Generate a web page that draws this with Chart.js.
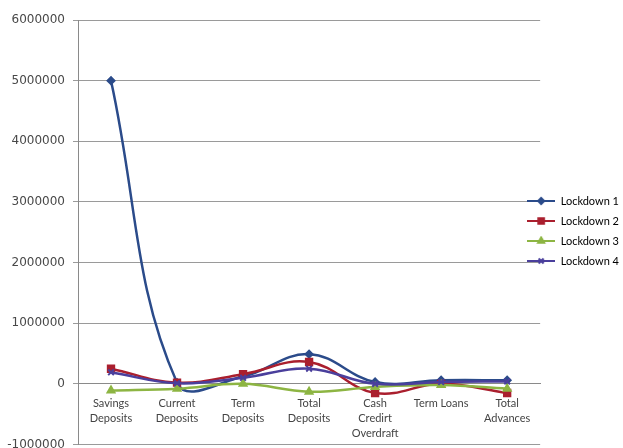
<!DOCTYPE html>
<html>
<head>
<meta charset="utf-8">
<style>
  html, body { margin: 0; padding: 0; background: #fff; overflow: hidden; }
  #wrap { width: 623px; height: 451px; }
</style>
<script src="https://cdn.jsdelivr.net/npm/chart.js@4/dist/chart.umd.min.js"></script>
</head>
<body>
<div id="wrap"><canvas id="chart"></canvas></div>
<script>
'use strict';

let categories = [
  ['Savings', 'Deposits'],
  ['Current', 'Deposits'],
  ['Term', 'Deposits'],
  ['Total', 'Deposits'],
  ['Cash', 'Credirt', 'Overdraft'],
  'Term Loans',
  ['Total', 'Advances']
];
let seriesNames = ['Lockdown 1', 'Lockdown 2', 'Lockdown 3', 'Lockdown 4'];
let lockdown1 = [5000000, 20000, 120000, 490000, 30000, 60000, 60000];
let lockdown2 = [250000, 20000, 160000, 360000, -150000, 0, -150000];
let lockdown3 = [-110000, -80000, 0, -130000, -50000, -20000, -80000];
let lockdown4 = [190000, 10000, 100000, 250000, 0, 30000, 40000];
let yTicks = [-1000000, 0, 1000000, 2000000, 3000000, 4000000, 5000000, 6000000];

let colors = ['#2b4b8a', '#aa1f2e', '#8db543', '#4a3f9c'];
let markers = ['rectRot', 'rect', 'triangle', 'crossRot'];
let markerSizes = [3.5, 4.5, 4, 4];
let allData = [lockdown1, lockdown2, lockdown3, lockdown4];

// small legend icon: line with the marker in the middle
function legendIcon(i) {
  let c = document.createElement('canvas');
  c.width = 28; c.height = 10;
  let ctx = c.getContext('2d');
  ctx.strokeStyle = colors[i];
  ctx.fillStyle = colors[i];
  ctx.lineWidth = 2;
  ctx.beginPath(); ctx.moveTo(0, 5); ctx.lineTo(28, 5); ctx.stroke();
  Chart.helpers.drawPoint(ctx, { pointStyle: markers[i], radius: markerSizes[i] - 0.5, borderWidth: 1.5 }, 14, 5);
  ctx.fill();
  return c;
}

// the legend sits partly over the plot, like the original
let legendShift = {
  id: 'legendShift',
  afterLayout(chart) {
    let lg = chart.legend;
    lg.left -= 22; lg.right -= 22;
    lg.top -= 6; lg.bottom -= 6;
  }
};

function noVertPadding(s) {
  s.paddingTop = 0;
  s.paddingBottom = 0;
}

let datasets = [];
for (let i = 0; i < seriesNames.length; i++) {
  datasets.push({
    label: seriesNames[i],
    data: allData[i],
    borderColor: colors[i],
    backgroundColor: colors[i],
    borderWidth: 2.5,
    tension: 0.4,
    pointStyle: markers[i],
    pointRadius: markerSizes[i],
    pointBorderWidth: 2,
    pointBorderColor: colors[i],
    pointBackgroundColor: colors[i]
  });
}

let chartObj = {
  type: 'line',
  data: { labels: categories, datasets: datasets.slice().reverse() },
  plugins: [legendShift],
  options: {
    responsive: true,
    maintainAspectRatio: false,
    animation: false,
    layout: { padding: { left: 2, top: 20, bottom: -3, right: -28 } },
    plugins: {
      tooltip: { enabled: false },
      legend: {
        position: 'right',
        labels: {
          font: { family: 'Lato', size: 11 },
          color: '#333',
          usePointStyle: true,
          boxWidth: 28,
          boxHeight: 10,
          pointStyleWidth: 28,
          padding: 9,
          generateLabels: function (chart) {
            return seriesNames.map(function (name, i) {
              return {
                text: name,
                pointStyle: legendIcon(i),
                fillStyle: colors[i],
                strokeStyle: colors[i],
                lineWidth: 0,
                datasetIndex: seriesNames.length - 1 - i
              };
            });
          }
        }
      }
    },
    scales: {
      y: {
        min: -1000000,
        max: 6000000,
        afterBuildTicks: function (s) { s.ticks = yTicks.map(v => ({ value: v })); },
        afterFit: function (s) { s.width = 76; noVertPadding(s); },
        ticks: {
          font: { family: 'DejaVu Sans', size: 12 },
          color: '#484848',
          padding: 8,
          callback: v => String(v)
        },
        grid: { color: '#9a9a9a', lineWidth: 1, tickLength: 5 },
        border: { color: '#8a8a8a', width: 1 }
      },
      x: {
        position: { y: 0 },
        offset: true,
        afterFit: noVertPadding,
        grid: { display: false, drawTicks: true, tickLength: 4 },
        border: { color: '#8a8a8a', width: 1 },
        ticks: {
          font: { family: 'Lato', size: 11, lineHeight: 1.35 },
          color: '#444',
          maxRotation: 0,
          autoSkip: false,
          padding: 8
        }
      }
    }
  }
};

new Chart(document.getElementById('chart'), chartObj);
</script>
</body>
</html>
